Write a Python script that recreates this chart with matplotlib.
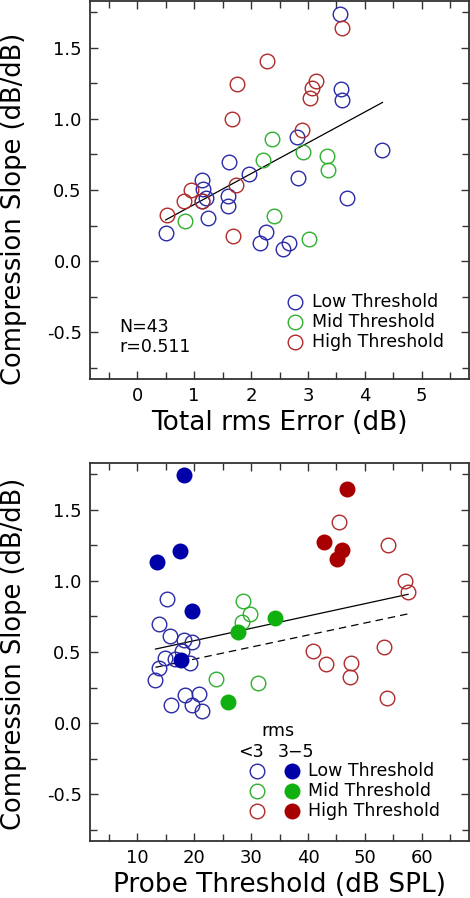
import matplotlib
matplotlib.use("Agg")
import matplotlib.pyplot as plt
import matplotlib.ticker as ticker
import numpy as np

# ---------------- data ----------------
# top panel: total rms error (dB) vs compression slope
low_rms = [3.56, 3.58, 3.60, 4.30, 2.80, 2.82, 3.68, 1.61, 1.96, 1.14, 1.16, 1.21,
           1.60, 1.59, 1.25, 0.50, 2.27, 2.16, 2.56, 2.67, 1.14]
low_slope_top = [1.74, 1.21, 1.13, 0.785, 0.87, 0.587, 0.447, 0.70, 0.615, 0.568, 0.507, 0.447,
                 0.456, 0.386, 0.306, 0.199, 0.206, 0.124, 0.084, 0.128, 0.425]
mid_rms = [2.36, 2.92, 3.33, 3.36, 2.21, 2.40, 0.84, 3.01]
mid_slope_top = [0.86, 0.767, 0.74, 0.643, 0.708, 0.316, 0.283, 0.152]
high_rms = [3.59, 2.28, 1.76, 3.15, 3.07, 3.04, 1.66, 2.89, 1.73, 0.94, 0.82, 1.14, 0.53, 1.69]
high_slope_top = [1.641, 1.41, 1.248, 1.269, 1.215, 1.148, 1.0, 0.921, 0.533, 0.503, 0.423,
                  0.421, 0.323, 0.175]
fit_top_x = [0.50, 4.31]
fit_top_coef = [0.217, 0.181]  # slope, intercept

# bottom panel: probe threshold (dB SPL) vs compression slope, split by rms
low_thr_lo = [15.3, 13.76, 15.7, 18.15, 19.67, 17.8, 14.9, 16.6, 19.2, 13.9, 13.2, 18.4,
              20.9, 15.9, 19.55, 21.4]
low_slope_lo = [0.871, 0.70, 0.615, 0.587, 0.570, 0.505, 0.456, 0.449, 0.425, 0.385, 0.30,
                0.197, 0.207, 0.125, 0.13, 0.085]
low_thr_hi = [18.15, 17.45, 13.4, 19.67, 17.7]
low_slope_hi = [1.746, 1.214, 1.132, 0.787, 0.446]
mid_thr_lo = [28.5, 29.75, 28.35, 23.8, 31.2]
mid_slope_lo = [0.862, 0.768, 0.709, 0.313, 0.284]
mid_thr_hi = [34.2, 27.75, 26.0]
mid_slope_hi = [0.74, 0.644, 0.148]
high_thr_lo = [45.5, 54.06, 57.1, 57.6, 40.9, 53.3, 43.1, 47.6, 47.4, 53.9]
high_slope_lo = [1.416, 1.251, 1.003, 0.923, 0.505, 0.533, 0.418, 0.423, 0.324, 0.174]
high_thr_hi = [46.9, 42.9, 45.9, 45.15]
high_slope_hi = [1.646, 1.273, 1.221, 1.153]
fit_bot_x = [13.2, 57.6]
fit_bot_all = [0.00868, 0.406]
fit_bot_lo = [0.00848, 0.280]

# colours
c_low, c_mid, c_high = '#2a2aa6', '#2fb02f', '#b02a2a'
f_low, f_mid, f_high = '#0000a8', '#10b010', '#a80000'

plt.rcParams['font.family'] = 'DejaVu Sans'

W, H = 470, 898
fig = plt.figure(figsize=(W / 100, H / 100), dpi=100)


def px_axes(x0, y0, x1, y1):
    return fig.add_axes([x0 / W, 1 - y1 / H, (x1 - x0) / W, (y1 - y0) / H])


def style(ax, label_y):
    for s in ax.spines.values():
        s.set_linewidth(1.3)
        s.set_color('#333333')
    ax.tick_params(which='both', direction='in', top=True, right=True,
                   width=1.0, color='#333333', labelsize=13, pad=6)
    ax.tick_params(which='major', length=6)
    ax.tick_params(which='minor', length=5)
    ax.set_ylim(-0.83, 1.83)
    ax.yaxis.set_major_locator(ticker.MultipleLocator(0.5))
    ax.yaxis.set_minor_locator(ticker.MultipleLocator(0.25))
    ax.yaxis.set_major_formatter(ticker.FormatStrFormatter('%.1f'))
    ax.set_ylabel('Compression Slope (dB/dB)', fontsize=18.5, va='center')
    ax.yaxis.set_label_coords(-0.2, label_y)


ms_open = 10.5
ms_fill = 11.5
mew = 1.0
fs_leg = 12.5

# ---------------- top panel ----------------
ax1 = px_axes(90, 1, 469, 379)
style(ax1, 0.45)
ax1.set_xlim(-0.83, 5.83)
ax1.xaxis.set_major_locator(ticker.MultipleLocator(1))
ax1.xaxis.set_minor_locator(ticker.MultipleLocator(0.5))
ax1.set_xlabel('Total rms Error (dB)', fontsize=19, labelpad=3)

fx = np.array(fit_top_x)
ax1.plot(fx, fit_top_coef[0] * fx + fit_top_coef[1], color='black', lw=0.9, zorder=1)

top_groups = [(low_rms, low_slope_top, c_low, 'Low Threshold'),
              (mid_rms, mid_slope_top, c_mid, 'Mid Threshold'),
              (high_rms, high_slope_top, c_high, 'High Threshold')]
for xs, ys, c, lab in top_groups:
    ax1.plot(xs, ys, 'o', ms=ms_open, mfc='none', mec=c, mew=mew, ls='none', zorder=2)

t1 = ax1.transAxes
for (xs, ys, c, lab), ry in zip(top_groups, [0.2045, 0.1516, 0.0987]):
    ax1.plot([0.5417], [ry], 'o', ms=ms_open, mfc='none', mec=c, mew=mew, transform=t1, clip_on=False)
    ax1.text(0.585, ry, lab, transform=t1, fontsize=fs_leg, ha='left', va='center')

ax1.text(0.077, 0.138, 'N=43', transform=t1, fontsize=fs_leg, ha='left', va='center')
ax1.text(0.077, 0.0854, 'r=0.511', transform=t1, fontsize=fs_leg, ha='left', va='center')

# ---------------- bottom panel ----------------
ax2 = px_axes(90, 463, 469, 841)
style(ax2, 0.495)
ax2.set_xlim(1.7, 68.3)
ax2.xaxis.set_major_locator(ticker.MultipleLocator(10))
ax2.xaxis.set_minor_locator(ticker.MultipleLocator(5))
ax2.xaxis.set_major_formatter(ticker.FuncFormatter(lambda v, p: '' if v < 5 or v > 65 else '%d' % v))
ax2.set_xlabel('Probe Threshold (dB SPL)', fontsize=19, labelpad=3)

bx = np.array(fit_bot_x)
ax2.plot(bx, fit_bot_all[0] * bx + fit_bot_all[1], color='black', lw=0.9, zorder=1)
ax2.plot(bx, fit_bot_lo[0] * bx + fit_bot_lo[1], color='black', lw=0.9, ls=(0, (6, 4)), zorder=1)

groups = [(low_thr_lo, low_slope_lo, low_thr_hi, low_slope_hi, c_low, f_low, 'Low Threshold'),
          (mid_thr_lo, mid_slope_lo, mid_thr_hi, mid_slope_hi, c_mid, f_mid, 'Mid Threshold'),
          (high_thr_lo, high_slope_lo, high_thr_hi, high_slope_hi, c_high, f_high, 'High Threshold')]
for xo, yo, xf, yf, c, f, lab in groups:
    ax2.plot(xo, yo, 'o', ms=ms_open, mfc='none', mec=c, mew=mew, ls='none', zorder=2)
    ax2.plot(xf, yf, 'o', ms=ms_fill, mfc=f, mec=f, mew=0, ls='none', zorder=3)

# custom legend built in axes coordinates
t2 = ax2.transAxes
ax2.text(0.495, 0.292, 'rms', transform=t2, fontsize=fs_leg, ha='center', va='center')
ax2.text(0.424, 0.236, '<3', transform=t2, fontsize=fs_leg, ha='center', va='center')
ax2.text(0.543, 0.236, '3\u22125', transform=t2, fontsize=fs_leg, ha='center', va='center')
for (xo, yo, xf, yf, c, f, lab), ry in zip(groups, [0.186, 0.132, 0.079]):
    ax2.plot([0.44], [ry], 'o', ms=ms_open, mfc='none', mec=c, mew=mew, transform=t2, clip_on=False)
    ax2.plot([0.534], [ry], 'o', ms=ms_fill, mfc=f, mec=f, mew=0, transform=t2, clip_on=False)
    ax2.text(0.576, ry, lab, transform=t2, fontsize=fs_leg, ha='left', va='center')

fig.savefig('out.png', dpi=100)
